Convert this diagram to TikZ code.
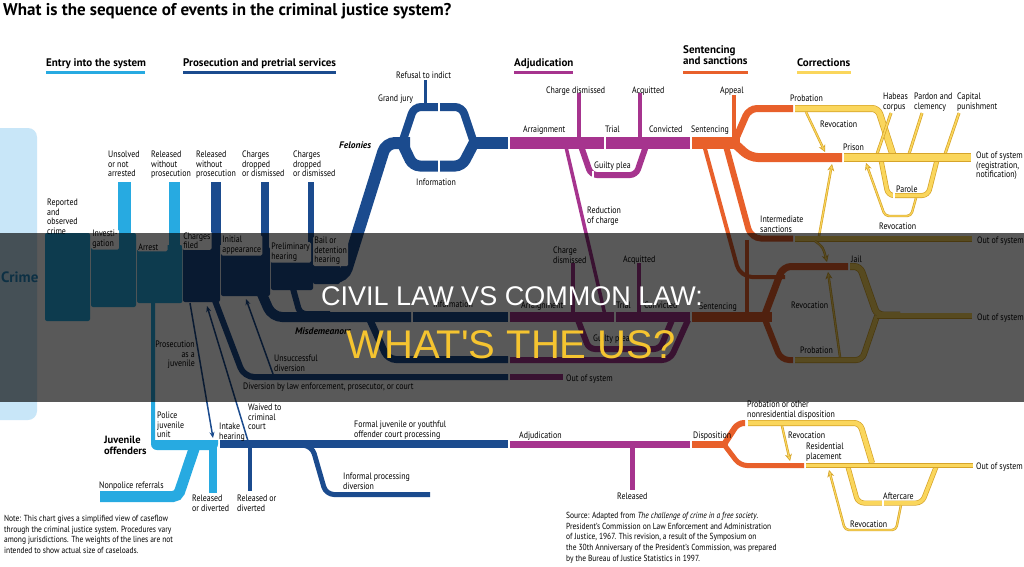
\documentclass[tikz,border=0pt]{standalone}
\usepackage{fontspec}
\setmainfont{PT Sans}[FakeStretch=0.85]
\newfontfamily\widefont{PT Sans}
\newfontfamily\bannerfont{Liberation Sans}
\usetikzlibrary{arrows.meta, positioning}
\definecolor{entryc}{RGB}{39,170,225}
\definecolor{prosc}{RGB}{27,75,142}
\definecolor{adjc}{RGB}{166,52,142}
\definecolor{sentc}{RGB}{232,96,43}
\definecolor{corrl}{RGB}{250,214,92}
\definecolor{corrd}{RGB}{214,164,42}
\definecolor{crimebg}{RGB}{200,230,248}
\definecolor{crimetxt}{RGB}{40,140,195}
\definecolor{banneryel}{RGB}{245,196,48}

\begin{document}
\begin{tikzpicture}[x=1pt, y=-1pt,
  lbl/.style={font=\fontsize{9.3}{9.5}\selectfont, align=left, inner sep=0pt, anchor=north west},
  lblb/.style={font=\fontsize{9.3}{9.5}\selectfont, inner sep=0pt, anchor=base west},
  stage/.style={lbl, fill=white, rounded corners=1.5pt, inner sep=1.2pt},
  head/.style={font=\widefont\bfseries\fontsize{11}{11.5}\selectfont, inner sep=0pt, anchor=base west},
  band/.style={line width=#1, rounded corners=6pt},
  yband/.style={draw=corrd, line width=0.7pt, double=corrl, double distance=#1, rounded corners=6pt},
  yarrow/.style={draw=corrd, line width=2.4pt, rounded corners=4pt,
    -{Stealth[length=7pt, width=7pt, fill=corrl, line width=0.6pt]},
    postaction={draw=corrl, line width=1.1pt, arrows=-, shorten >=4pt}},
  thinarrow/.style={prosc, line width=1.5pt, -{Stealth[length=6pt, width=5pt]}},
  gap/.style={white, line width=1.2pt},
]
\useasboundingbox (0,0) rectangle (1024,566);
\fill[white] (0,0) rectangle (1024,566);

% title and stage headers
\node[font=\widefont\bfseries\fontsize{17}{17}\selectfont, inner sep=0pt, anchor=base west] (title) at (3,15)
  {What is the sequence of events in the criminal justice system?};
\node[head] (hentry) at (46,66) {Entry into the system};
\draw[entryc, line width=3pt] (46,72) -- (145,72);
\node[head] (hpros) at (183,66) {Prosecution and pretrial services};
\draw[prosc, line width=3pt] (183,72) -- (336,72);
\node[head] (hadj) at (514,66) {Adjudication};
\draw[adjc, line width=3pt] (514,72) -- (573,72);
\node[head, align=left, anchor=north west] (hsent) at (683,45) {Sentencing\\and sanctions};
\draw[sentc, line width=3pt] (683,72.5) -- (748,72.5);
\node[head] (hcorr) at (797,66) {Corrections};
\draw[corrl, line width=3pt] (797,72.5) -- (851,72.5);

% crime
\fill[crimebg, rounded corners=9pt] (-12,128) rectangle (37,420);

% entry into the system
\fill[entryc, rounded corners=2pt] (45,233) rectangle (90,321);
\fill[entryc, rounded corners=2pt] (91,233) rectangle (136,307);
\fill[entryc, rounded corners=2pt] (137,245) rectangle (182.4,303);
\fill[entryc] (118,182) rectangle (131,240);
\fill[entryc] (169,182) rectangle (180,250);
\fill[entryc, rounded corners=6pt] (151,300) -- (151,450) -- (218,450) [sharp corners] -- (218,440) -- (155,440) -- (155,300) -- cycle;
\draw[entryc, band=11pt, rounded corners=5pt] (100,496.5) -- (178,496.5) -- (195,446);
\draw[entryc, line width=8pt] (213,446) -- (213,493);

% prosecution and pretrial services
\fill[prosc, rounded corners=2pt] (183,240) rectangle (220,302);
\fill[prosc, rounded corners=2pt] (221,247) rectangle (270,296);
\fill[prosc, rounded corners=2pt] (271,250) rectangle (313,290);
\fill[prosc, rounded corners=2pt] (313,250) rectangle (340,284);
\fill[prosc] (211,182) rectangle (221,245);
\fill[prosc] (261,182) rectangle (269,252);
\fill[prosc] (308,182) rectangle (313.5,255);
% felonies
\draw[prosc, band=12pt, rounded corners=9pt] (322,277) -- (344,277) -- (386,143) -- (410,143);
\draw[prosc, band=8pt, rounded corners=7pt] (402,143) -- (414,107) -- (462,107) -- (474,143);
\draw[prosc, band=11pt, rounded corners=7pt] (402,143) -- (413,166) -- (462,166) -- (474,143);
\draw[prosc, line width=12pt] (470,143) -- (508,143);
\draw[prosc, line width=3.5pt] (425.5,80) -- (425.5,106);
\draw[gap] (439,102) -- (439,112);
\draw[gap] (439,160) -- (439,172);
% misdemeanors
\draw[prosc, band=10pt, rounded corners=10pt] (258,285) -- (272,317) -- (411,317);
\draw[prosc, line width=10pt] (413,317) -- (508,317);
\draw[prosc, band=6pt] (292,285) -- (300,314) -- (330,314);
\draw[prosc, band=7pt, rounded corners=8pt] (370,320) -- (388,359.5) -- (508,359.5);
\draw[prosc, band=6pt, rounded corners=10pt] (214,298) -- (244,377) -- (508,377);
\draw[thinarrow] (273,374) -- (246,299);
\draw[thinarrow] (190,303) -- (213,438);
\draw[thinarrow] (248,441) -- (207,306);
% juvenile court processing
\draw[prosc, line width=8pt] (220,444) -- (508,444);
\draw[prosc, line width=4.5pt] (250,446) -- (250,491);
\draw[prosc, band=5pt, rounded corners=8pt] (300,445) -- (312,446) -- (326,494.5) -- (430,494.5);

% adjudication
\draw[adjc, line width=3.5pt] (579,93) -- (579,140);
\draw[adjc, line width=3.5pt] (640,93) -- (640,140);
\draw[adjc, line width=12pt] (510,143) -- (690,143);
\draw[gap] (605,136) -- (605,150);
\draw[adjc, band=6pt] (581,146) -- (591,175) -- (636,175) -- (646,146);
\draw[gap] (593,171) -- (593,179);
\draw[adjc, line width=3.5pt] (566,147) -- (605,315);
\draw[adjc, line width=3.5pt] (573,263) -- (573,314);
\draw[adjc, line width=3.5pt] (639,263) -- (639,314);
\draw[adjc, line width=10pt] (510,317) -- (690,317);
\draw[gap] (615,311) -- (615,323);
\draw[adjc, band=6pt] (578,320) -- (589,349) -- (660,349) -- (672,320);
\draw[adjc, band=6pt, rounded corners=8pt] (510,360) -- (670,360) -- (688,320);
\draw[adjc, line width=6pt] (510,377) -- (563,377);
\draw[adjc, line width=7pt] (510,444.5) -- (690,444.5);
\draw[adjc, line width=5pt] (632.5,446) -- (632.5,490);

% sentencing and sanctions
\draw[sentc, line width=3.5pt] (734,95) -- (734,140);
\draw[sentc, line width=12pt] (692,143) -- (740,143);
\draw[sentc, band=7pt, rounded corners=8pt] (734,143) -- (749,108.5) -- (793,108.5);
\draw[sentc, band=9pt, rounded corners=8pt] (734,143) -- (750,157.5) -- (842,157.5);
\draw[sentc, band=4pt, rounded corners=12pt] (704,145) -- (740,277) -- (785,277);
\draw[sentc, band=6pt, rounded corners=10pt] (726,146) -- (751,238.5) -- (793,238.5);
\draw[sentc, line width=4pt] (747,314) -- (747,240);
\draw[sentc, line width=10pt] (692,317) -- (772,317);
\draw[sentc, band=7pt, rounded corners=8pt] (764,317) -- (783,266.5) -- (848,266.5);
\draw[sentc, band=6pt, rounded corners=8pt] (764,317) -- (781,360) -- (793,360);
\draw[sentc, line width=7pt] (692,444.5) -- (728,444.5);
\draw[sentc, band=6pt] (724,444.5) -- (738,423) -- (745,423);
\draw[sentc, band=5pt, rounded corners=7pt] (724,444.5) -- (740,465.5) -- (804,465.5);

% corrections
\draw[yband=5.6pt] (795,108.5) -- (878,108.5) -- (893,155);
\draw[yband=1.6pt] (891,113) -- (877,154);
\draw[yband=1.6pt] (922,113) -- (909,154);
\draw[yband=1.6pt] (959,113) -- (945,154);
\draw[yband=3.6pt] (881,160) -- (888,195.5) -- (928,195.5) -- (937,160);
\draw[gap] (894,192) -- (894,199);
\draw[yband=7.6pt] (844,157.5) -- (971,157.5);
\draw[yarrow] (916,198) -- (911,216) -- (885,216) -- (866,163);
\draw[yarrow] (806,112) -- (825,152);
\draw[yband=4.6pt] (795,238.5) -- (972,238.5);
\draw[yarrow] (819,236) -- (832,164);
\draw[yarrow] (815,241) .. controls (823,247) .. (827,262);
\draw[yband=5.6pt] (850,266.5) -- (860,266.5) -- (877,315) -- (900,315);
\draw[yband=4.6pt] (795,360) -- (862,360) -- (877,316);
\draw[yband=4.6pt] (877,315.5) -- (972,315.5);
\draw[yarrow] (840,357) -- (828,272);
\draw[yband=4.6pt] (748,423) -- (860,423) -- (872,463);
\draw[yband=3.6pt] (848,467) -- (858,503) -- (922,503) -- (936,467);
\draw[gap] (883,500) -- (883,506);
\draw[yarrow] (901,505) -- (896,530) -- (845,530) -- (829,470);
\draw[yband=3.6pt] (806,465.5) -- (973,465.5);
\draw[yarrow] (782,426) -- (790,461);

% labels: entry and prosecution
\node[font=\widefont\bfseries\fontsize{15}{15}\selectfont, text=crimetxt, inner sep=0pt, anchor=base west] (crime) at (1,282) {Crime};
\node[lbl] (reported) at (47,199) {Reported\\and\\observed\\crime};
\node[lbl] (unsolved) at (108,151) {Unsolved\\or not\\arrested};
\node[lbl] (relwo) at (151,151) {Released\\without\\prosecution};
\node[lbl] (relwop) at (196,151) {Released\\without\\prosecution};
\node[lbl] (dropa) at (242,151) {Charges\\dropped\\or dismissed};
\node[lbl] (dropb) at (293,151) {Charges\\dropped\\or dismissed};
\node[stage] (invest) at (91,229) {Investi-\\gation};
\node[stage] (arrest) at (137,242) {Arrest\hspace{8pt}};
\node[stage] (filed) at (182,231) {Charges\\filed};
\node[stage] (initial) at (221,235) {Initial\\appearance};
\node[stage] (prelim) at (270,242) {Preliminary\\hearing};
\node[stage] (bail) at (313,236) {Bail or\\detention\\hearing};
\node[lblb] (refusal) at (396,78) {Refusal to indict};
\node[lblb] (grandjury) at (378,101) {Grand jury};
\node[lblb] (infofel) at (416,185) {Information};
\node[lblb, font=\widefont\bfseries\itshape\fontsize{9.5}{9.5}\selectfont] (felonies) at (339,148) {Felonies};
\node[lblb, font=\widefont\bfseries\itshape\fontsize{9.5}{9.5}\selectfont] (misdem) at (295,334) {Misdemeanors};
\node[lblb] (infomis) at (433,307) {Information};
\node[lblb] (diversion) at (243,389) {Diversion by law enforcement, prosecutor, or court};
\node[lbl] (unsucc) at (274,355) {Unsuccessful\\diversion};
\node[lbl, align=right, anchor=north east] (asjuv) at (195,341) {Prosecution\\as a\\juvenile};

% labels: adjudication and sentencing
\node[lblb] (dismfel) at (546,93) {Charge dismissed};
\node[lblb] (acqfel) at (632,93) {Acquitted};
\node[lblb] (arrfel) at (523,132) {Arraignment};
\node[lblb] (trialfel) at (605,132) {Trial};
\node[lblb] (convfel) at (649,132) {Convicted};
\node[lblb] (pleafel) at (594,168) {Guilty plea};
\node[lbl] (reduction) at (587,207) {Reduction\\of charge};
\node[lbl] (dismmis) at (553,247) {Charge\\dismissed};
\node[lblb] (acqmis) at (623,262) {Acquitted};
\node[lblb] (arrmis) at (521,308) {Arraignment};
\node[lblb] (trialmis) at (616,308) {Trial};
\node[lblb] (convmis) at (644,308) {Convicted};
\node[lblb] (pleamis) at (593,341) {Guilty plea};
\node[lblb] (outadj) at (566,381) {Out of system};
\node[lblb] (sentfel) at (691,132) {Sentencing};
\node[lblb] (appeal) at (720,93) {Appeal};
\node[lblb] (sentmis) at (699,309) {Sentencing};
\node[lbl] (intermed) at (760,216) {Intermediate\\sanctions};

% labels: corrections
\node[lblb] (probfel) at (790,101) {Probation};
\node[lblb] (revprob) at (820,127) {Revocation};
\node[lblb] (prison) at (843,150) {Prison};
\node[lbl] (habeas) at (883,93) {Habeas\\corpus};
\node[lbl] (pardon) at (914,93) {Pardon and\\clemency};
\node[lbl] (capital) at (957,93) {Capital\\punishment};
\node[lbl] (outreg) at (976,152) {Out of system\\(registration,\\notification)};
\node[lblb] (parole) at (896,192) {Parole};
\node[lblb] (revparole) at (879,229) {Revocation};
\node[lblb] (outint) at (977,243) {Out of system};
\node[lblb] (jail) at (851,262) {Jail};
\node[lblb] (revjail) at (791,308) {Revocation};
\node[lblb] (outmis) at (977,320) {Out of system};
\node[lblb] (probmis) at (800,353) {Probation};

% labels: juveniles
\node[lbl] (police) at (157,412) {Police\\juvenile\\unit};
\node[lbl, font=\widefont\bfseries\fontsize{10.5}{11}\selectfont] (juvenile) at (104,436) {Juvenile\\offenders};
\node[lbl] (intake) at (219,423) {Intake\\hearing};
\node[lbl] (waived) at (248,404) {Waived to\\criminal\\court};
\node[lbl] (formal) at (354,421) {Formal juvenile or youthful\\offender court processing};
\node[lbl] (informal) at (343,473) {Informal processing\\diversion};
\node[lblb] (nonpolice) at (99,488) {Nonpolice referrals};
\node[lbl] (reldiva) at (192,495) {Released\\or diverted};
\node[lbl] (reldivb) at (237,495) {Released or\\diverted};
\node[lblb] (adjjuv) at (519,438) {Adjudication};
\node[lblb] (released) at (617,499) {Released};
\node[lblb] (dispo) at (693,438) {Disposition};
\node[lbl] (nonres) at (747,401) {Probation or other\\nonresidential disposition};
\node[lblb] (revjuv) at (788,438) {Revocation};
\node[lbl] (resid) at (806,443) {Residential\\placement};
\node[lblb] (outjuv) at (976,469) {Out of system};
\node[lblb] (aftercare) at (883,499) {Aftercare};
\node[lblb] (revafter) at (850,527) {Revocation};

% notes
\node[lbl, font=\fontsize{8.8}{10.7}\selectfont] (note) at (4,515)
  {Note: This chart gives a simplified view of caseflow\\through the criminal justice system. Procedures vary\\among jurisdictions. The weights of the lines are not\\intended to show actual size of caseloads.};
\node[lbl, font=\fontsize{8.8}{10.7}\selectfont] (source) at (566,512)
  {Source: Adapted from \textit{The challenge of crime in a free society}.\\President's Commission on Law Enforcement and Administration\\of Justice, 1967. This revision, a result of the Symposium on\\the 30th Anniversary of the President's Commission, was prepared\\by the Bureau of Justice Statistics in 1997.};

% banner
\fill[black, opacity=0.65] (0,233) rectangle (1024,402);
\node[font=\bannerfont\fontsize{27}{27}\selectfont, text=white, inner sep=0pt, anchor=base] (civil) at (512,305) {CIVIL LAW VS COMMON LAW:};
\node[font=\bannerfont\fontsize{40}{40}\selectfont, text=banneryel, inner sep=0pt, anchor=base] (theus) at (511,358) {WHAT\textquotesingle S THE US?};
\end{tikzpicture}
\end{document}
